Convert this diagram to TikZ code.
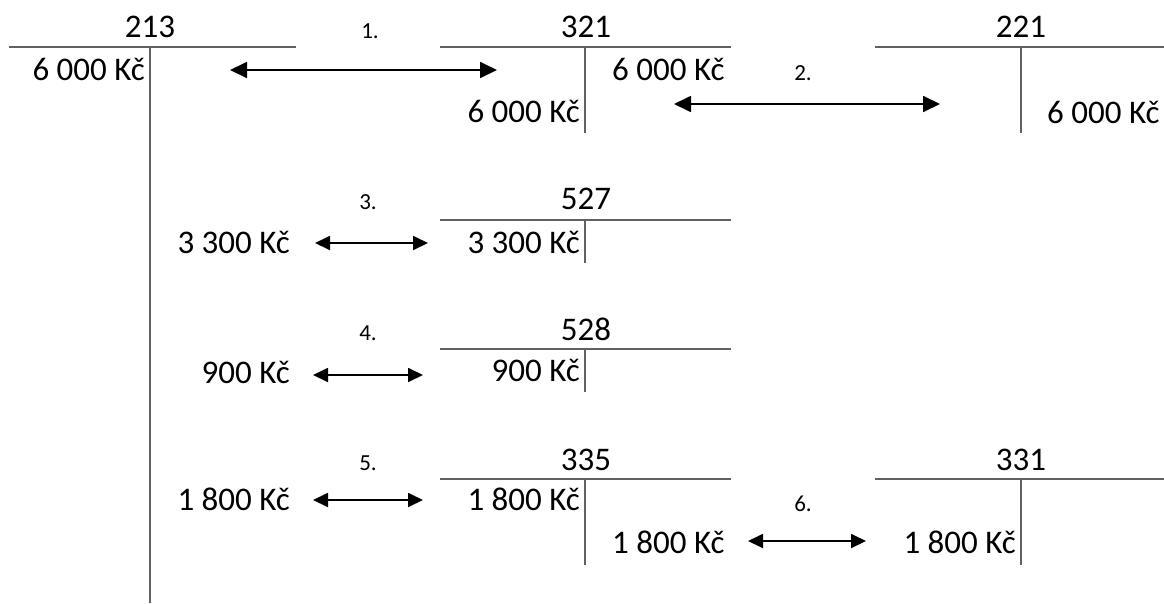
\documentclass[tikz,border=0pt]{standalone}
\usepackage{fontspec}
\setmainfont{Carlito}
\usetikzlibrary{arrows.meta}
\begin{document}
\begin{tikzpicture}[x=1pt,y=-1pt,
  rule/.style={draw=black!62, line width=1.3pt},
  amt/.style={font=\fontsize{33}{38}\selectfont, inner sep=0pt},
  acct/.style={font=\fontsize{33}{38}\selectfont, inner sep=0pt, anchor=base},
  stepno/.style={font=\fontsize{23}{27}\selectfont, inner sep=0pt, anchor=base},
  link/.style={line width=1.8pt, {Triangle[length=17pt,width=16pt]}-{Triangle[length=17pt,width=16pt]}},
  shortlink/.style={line width=1.8pt, {Triangle[length=15pt,width=14pt]}-{Triangle[length=15pt,width=14pt]}}]
\useasboundingbox (0,0) rectangle (1164,603);

% --- account 213 ---
\node[acct] (t213) at (150,37) {213};
\draw[rule] (9,47) -- (296,47);
\draw[rule] (150,47) -- (150,603);
\node[amt, anchor=base east] (a213) at (145,80) {6 000 Kč};

% --- account 321 ---
\node[acct] (t321) at (586,37) {321};
\draw[rule] (440,47) -- (731,47);
\draw[rule] (585,47) -- (585,133);
\node[amt, anchor=base west] (c321) at (612,80) {6 000 Kč};
\node[amt, anchor=base east] (d321) at (580,122) {6 000 Kč};

% --- account 221 ---
\node[acct] (t221) at (1021,37) {221};
\draw[rule] (875,47) -- (1164,47);
\draw[rule] (1021,47) -- (1021,133);
\node[amt, anchor=base west] (c221) at (1047,123) {6 000 Kč};

% --- account 527 ---
\node[acct] (t527) at (586,209) {527};
\draw[rule] (440,220) -- (731,220);
\draw[rule] (585,220) -- (585,263);
\node[amt, anchor=base east] (d527) at (580,253) {3 300 Kč};
\node[amt, anchor=base east] (c213a) at (290,253) {3 300 Kč};

% --- account 528 ---
\node[acct] (t528) at (586,340) {528};
\draw[rule] (440,349) -- (731,349);
\draw[rule] (585,349) -- (585,392);
\node[amt, anchor=base east] (d528) at (580,381) {900 Kč};
\node[amt, anchor=base east] (c213b) at (290,383) {900 Kč};

% --- account 335 ---
\node[acct] (t335) at (586,470) {335};
\draw[rule] (440,479) -- (731,479);
\draw[rule] (585,479) -- (585,565);
\node[amt, anchor=base east] (d335) at (580,510) {1 800 Kč};
\node[amt, anchor=base east] (c213c) at (290,510) {1 800 Kč};
\node[amt, anchor=base west] (c335) at (612,553) {1 800 Kč};

% --- account 331 ---
\node[acct] (t331) at (1021,470) {331};
\draw[rule] (875,479) -- (1164,479);
\draw[rule] (1021,479) -- (1021,565);
\node[amt, anchor=base east] (d331) at (1016,553) {1 800 Kč};

% --- step numbers ---
\node[stepno] (s1) at (370,38) {1.};
\node[stepno] (s2) at (803,80) {2.};
\node[stepno] (s3) at (368,209) {3.};
\node[stepno] (s4) at (368,340) {4.};
\node[stepno] (s5) at (368,470) {5.};
\node[stepno] (s6) at (803,511) {6.};

% --- arrow end points ---
\coordinate (e1a) at (230,70);  \coordinate (e1b) at (497,70);
\coordinate (e2a) at (674,104); \coordinate (e2b) at (940,104);
\coordinate (e3a) at (315,243); \coordinate (e3b) at (428,243);
\coordinate (e4a) at (313,375); \coordinate (e4b) at (423,375);
\coordinate (e5a) at (313,500); \coordinate (e5b) at (423,500);
\coordinate (e6a) at (748,541); \coordinate (e6b) at (866,541);

\draw[link] (e1a) -- (e1b);
\draw[link] (e2a) -- (e2b);
\draw[shortlink] (e3a) -- (e3b);
\draw[shortlink] (e4a) -- (e4b);
\draw[shortlink] (e5a) -- (e5b);
\draw[shortlink] (e6a) -- (e6b);
\end{tikzpicture}
\end{document}
